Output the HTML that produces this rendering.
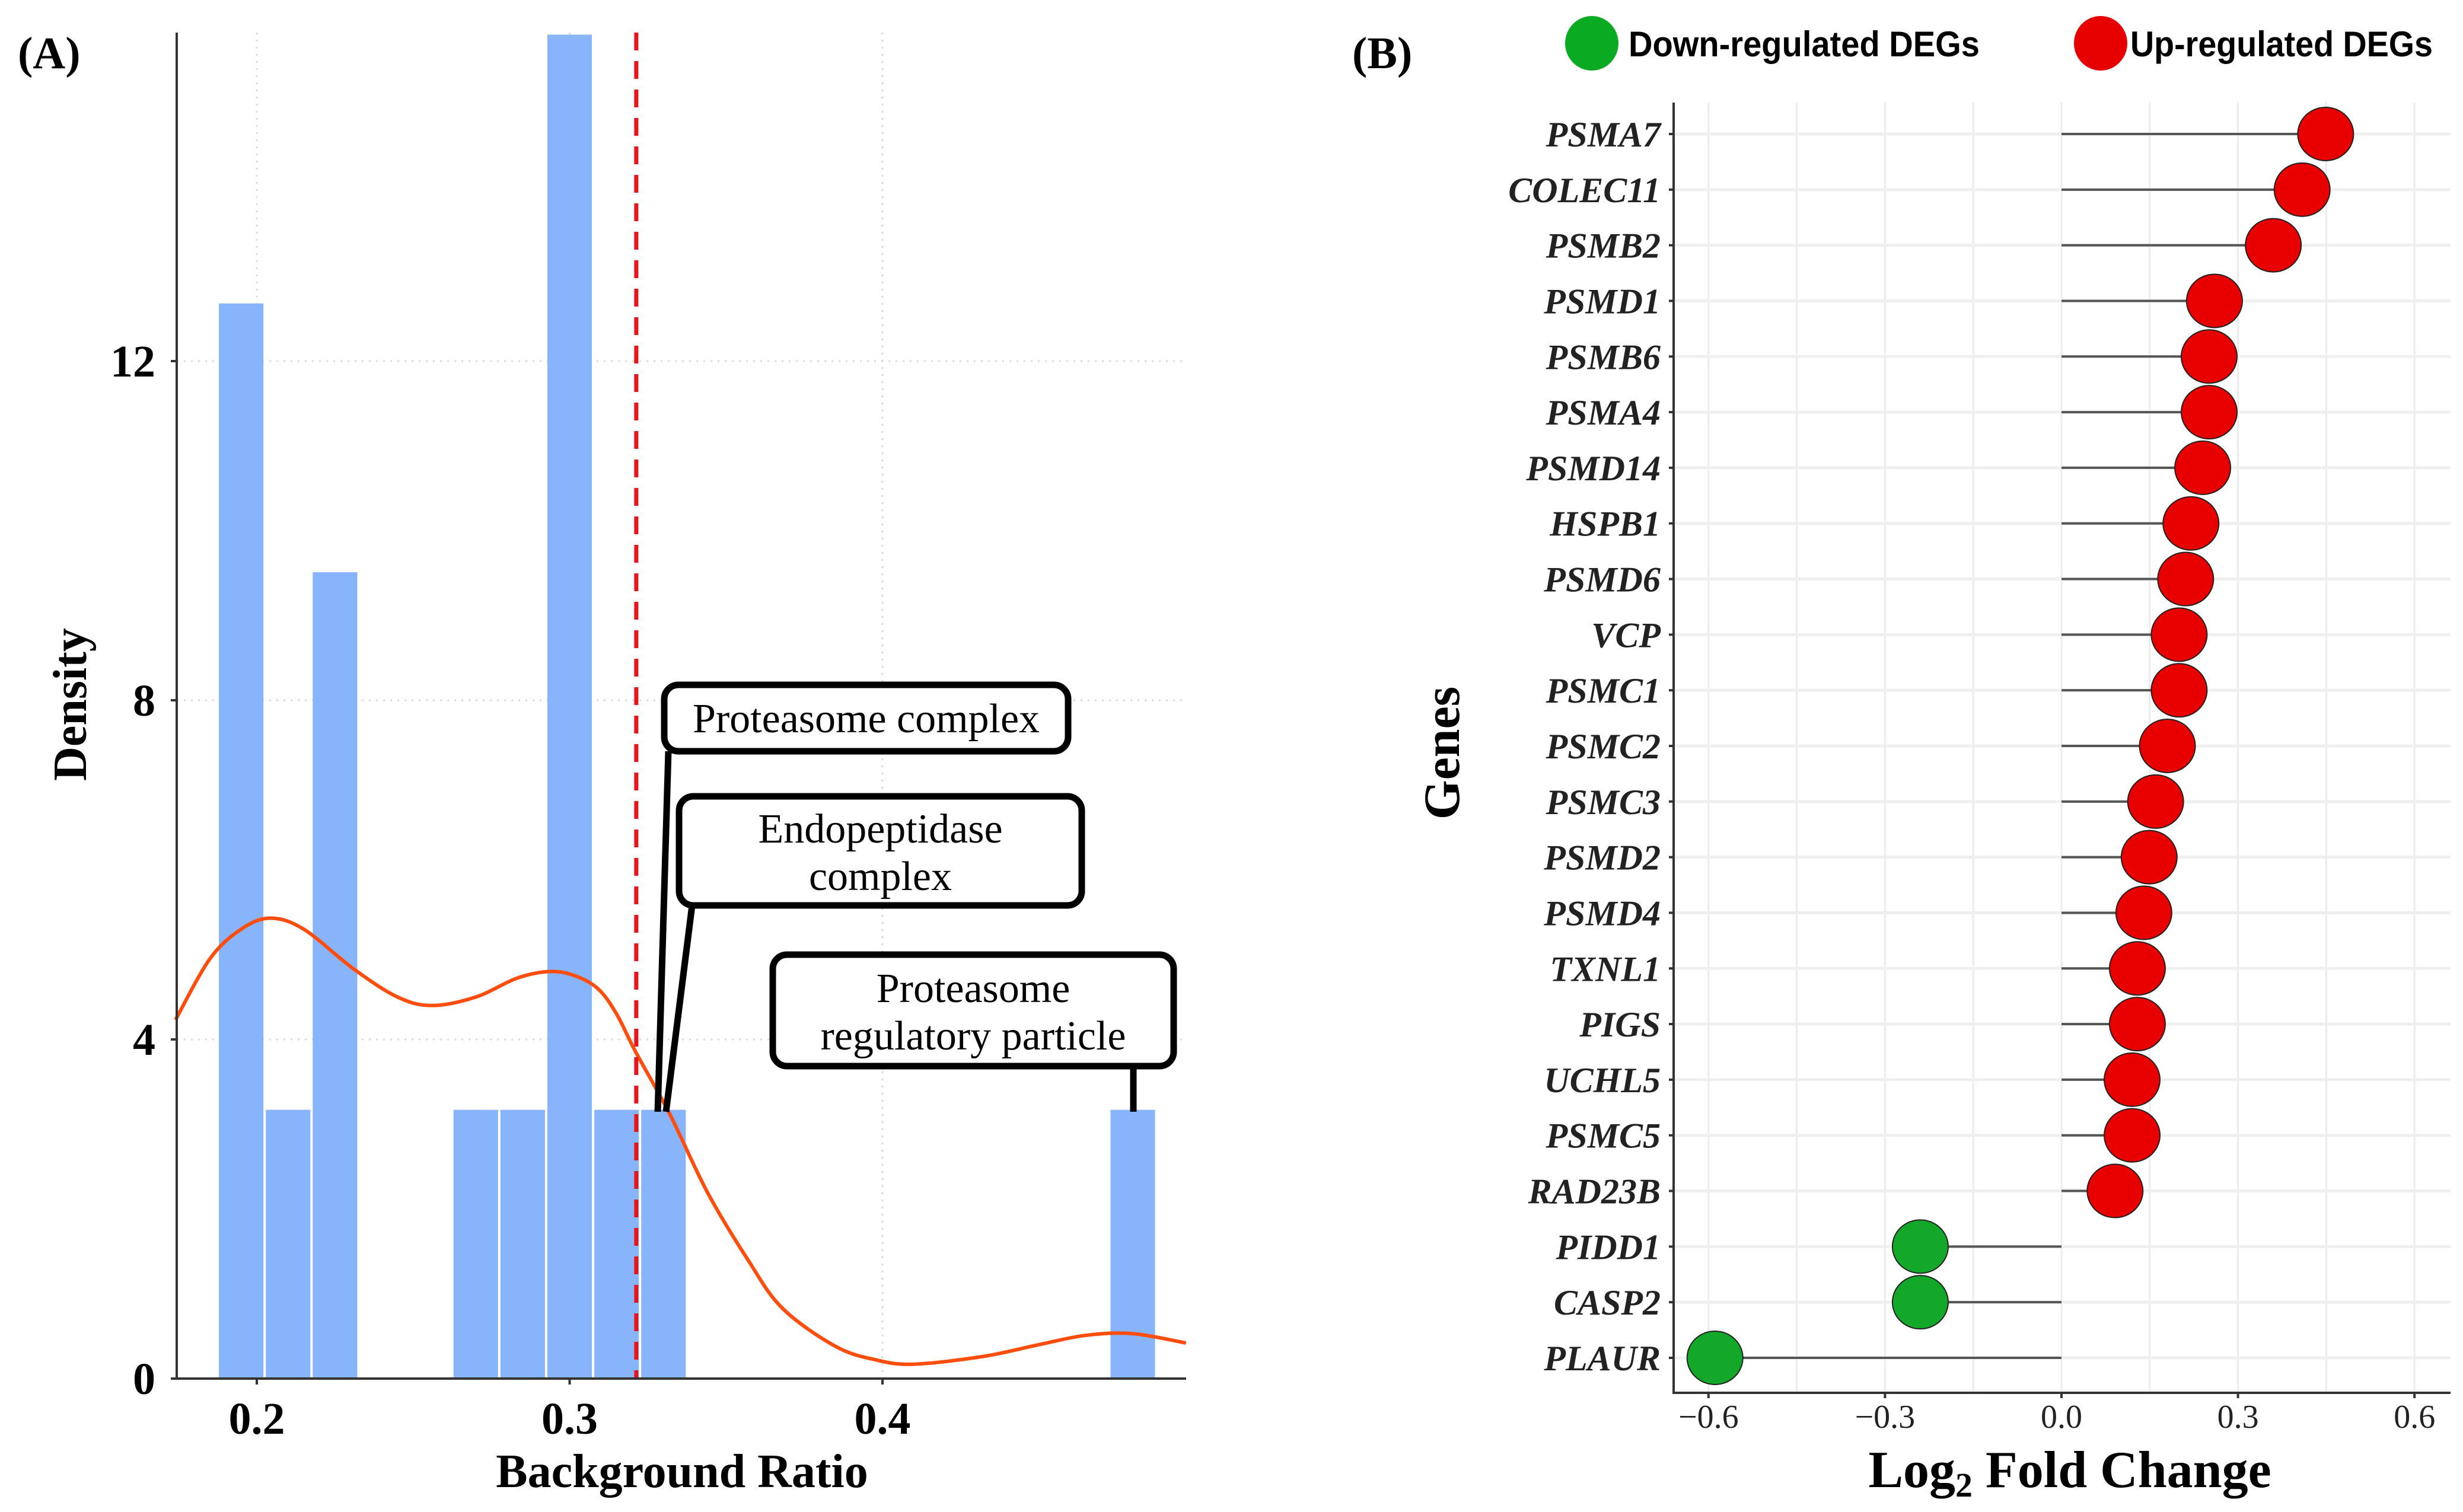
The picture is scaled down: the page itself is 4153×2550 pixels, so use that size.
<!DOCTYPE html>
<html><head><meta charset="utf-8"><style>
html,body{margin:0;padding:0;background:#fff;}
svg{display:block;}
.serif{font-family:"Liberation Serif",serif;}
</style></head><body>
<svg id="svg" width="4153" height="2550" viewBox="0 0 4153 2550" xmlns="http://www.w3.org/2000/svg">
<g id="pa"></g>
<g id="pb"></g>
</svg>
<script>
// ---------- Panel A data ----------
const binStarts = [0.1875,0.2025,0.2175,0.2625,0.2775,0.2925,0.3075,0.3225,0.4725];
const binHeights = [12.68,3.17,9.51,3.17,3.17,15.85,3.17,3.17,3.17];
const binWidth = 0.015;
const kdeX = [0.174,0.185,0.195,0.2043,0.215,0.231,0.245,0.256,0.27,0.283,0.293,0.301,0.309,0.315,0.321,0.332,0.344,0.357,0.368,0.385,0.398,0.41,0.432,0.45,0.465,0.48,0.497];
const kdeY = [4.23,4.95,5.3,5.43,5.3,4.83,4.5,4.4,4.5,4.72,4.8,4.76,4.6,4.3,3.86,3.12,2.2,1.4,0.83,0.38,0.22,0.17,0.26,0.4,0.51,0.53,0.42];
const thresholdX = 0.3213;
const aXTicks = [0.2,0.3,0.4];
const aXTickLabels = ["0.2","0.3","0.4"];
const aYTicks = [0,4,8,12];
const aYTickLabels = ["0","4","8","12"];

// ---------- Panel B data ----------
const genes = ["PSMA7","COLEC11","PSMB2","PSMD1","PSMB6","PSMA4","PSMD14","HSPB1","PSMD6","VCP","PSMC1","PSMC2","PSMC3","PSMD2","PSMD4","TXNL1","PIGS","UCHL5","PSMC5","RAD23B","PIDD1","CASP2","PLAUR"];
const logFC = [0.449,0.409,0.36,0.26,0.251,0.251,0.24,0.22,0.211,0.2,0.2,0.18,0.16,0.149,0.14,0.129,0.129,0.12,0.12,0.091,-0.24,-0.24,-0.589];
const bXTicks = [-0.6,-0.3,0.0,0.3,0.6];
const bXTickLabels = ["\u22120.6","\u22120.3","0.0","0.3","0.6"];

const NS="http://www.w3.org/2000/svg";
function mk(parent,tag,attrs,text){const e=document.createElementNS(NS,tag);for(const k in attrs)e.setAttribute(k,attrs[k]);if(text!==undefined)e.textContent=text;parent.appendChild(e);return e;}

// ===== Panel A =====
(function(){
const g=document.getElementById('pa');
const L=298,R=2000,T=55,B=2325;
const xA=v=>433+(v-0.2)*5275;
const yA=v=>B-v*143;
aXTicks.forEach(v=>{const l=mk(g,'line',{x1:xA(v),x2:xA(v),y1:T,y2:B,stroke:'#d9d9d9','stroke-width':3,'stroke-dasharray':'3 9'});
});
aYTicks.slice(1).forEach(v=>{const l=mk(g,'line',{x1:L,x2:R,y1:yA(v),y2:yA(v),stroke:'#d9d9d9','stroke-width':3,'stroke-dasharray':'3 9'});
});
binStarts.forEach((s,i)=>{const x0=xA(s),x1=xA(s+binWidth);const y=Math.max(yA(binHeights[i]),T);
const r=mk(g,'rect',{x:x0+2,y:y,width:x1-x0-4,height:B-y,fill:'#87b4fa'});
});
const pts=kdeX.map((v,i)=>[xA(v),yA(kdeY[i])]);
let d='M'+pts[0][0]+','+pts[0][1];
for(let i=0;i<pts.length-1;i++){const p0=pts[i-1]||pts[i],p1=pts[i],p2=pts[i+1],p3=pts[i+2]||p2;
d+=' C'+(p1[0]+(p2[0]-p0[0])/6)+','+(p1[1]+(p2[1]-p0[1])/6)+' '+(p2[0]-(p3[0]-p1[0])/6)+','+(p2[1]-(p3[1]-p1[1])/6)+' '+p2[0]+','+p2[1];}
const kp=mk(g,'path',{d:d,fill:'none',stroke:'#ff4d0d','stroke-width':6});

const th=mk(g,'line',{x1:xA(thresholdX),x2:xA(thresholdX),y1:T,y2:B,stroke:'#e8141c','stroke-width':7,'stroke-dasharray':'30 18'});

const ax=mk(g,'path',{d:`M${L},${T} L${L},${B} L${R},${B}`,fill:'none',stroke:'#333','stroke-width':4});

aXTicks.forEach((v,i)=>{mk(g,'line',{x1:xA(v),x2:xA(v),y1:B,y2:B+10,stroke:'#333','stroke-width':4});
const t=mk(g,'text',{x:xA(v),y:2418,'text-anchor':'middle','font-size':76,'font-weight':'bold',class:'serif'},aXTickLabels[i]);
});
aYTicks.forEach((v,i)=>{mk(g,'line',{x1:L-10,x2:L,y1:yA(v),y2:yA(v),stroke:'#333','stroke-width':4});
const t=mk(g,'text',{x:262,y:yA(v)+26,'text-anchor':'end','font-size':76,'font-weight':'bold',class:'serif'},aYTickLabels[i]);
});
let t=mk(g,'text',{x:1150,y:2508,'text-anchor':'middle','font-size':80,'font-weight':'bold',class:'serif'},'Background Ratio');

t=mk(g,'text',{x:0,y:0,'text-anchor':'middle','font-size':80,'font-weight':'bold',class:'serif',transform:'translate(145,1188) rotate(-90)'},'Density');

t=mk(g,'text',{x:30,y:115,'font-size':76,'font-weight':'bold',class:'serif'},'(A)');

const anns=[
 {name:'annotation-proteasome-complex',x:1120,y:1155,w:681,h:112,lines:['Proteasome complex'],lx1:1127,ly1:1267,lx2:1109,ly2:1875},
 {name:'annotation-endopeptidase-complex',x:1145,y:1343,w:679,h:184,lines:['Endopeptidase','complex'],lx1:1167,ly1:1527,lx2:1123,ly2:1875},
 {name:'annotation-proteasome-regulatory-particle',x:1303,y:1610,w:676,h:188,lines:['Proteasome','regulatory particle'],lx1:1911,ly1:1798,lx2:1911,ly2:1875}];
anns.forEach(a=>{
 const gg=mk(g,'g',{});
 mk(gg,'line',{x1:a.lx1,y1:a.ly1,x2:a.lx2,y2:a.ly2,stroke:'#000','stroke-width':11});
 mk(gg,'rect',{x:a.x,y:a.y,width:a.w,height:a.h,rx:24,fill:'#fff',stroke:'#000','stroke-width':11});
 const cx=a.x+a.w/2;
 if(a.lines.length===1){mk(gg,'text',{x:cx,y:a.y+a.h/2+24,'text-anchor':'middle','font-size':70,class:'serif'},a.lines[0]);}
 else{mk(gg,'text',{x:cx,y:a.y+a.h/2-14,'text-anchor':'middle','font-size':70,class:'serif'},a.lines[0]);
      mk(gg,'text',{x:cx,y:a.y+a.h/2+66,'text-anchor':'middle','font-size':70,class:'serif'},a.lines[1]);}
});
})();

// ===== Panel B =====
(function(){
const g=document.getElementById('pb');
const L=2822,R=4132,T=173,B=2349;
const xs=v=>3476+v*992;
const yB=i=>226+i*(2290-226)/22;
for(let k=-4;k<=4;k++){const v=k*0.15;const l=mk(g,'line',{x1:xs(v),x2:xs(v),y1:T,y2:B,stroke:'#ececec','stroke-width':3});
}
genes.forEach((n,i)=>{const l=mk(g,'line',{x1:L,x2:R,y1:yB(i),y2:yB(i),stroke:'#efefef','stroke-width':5});
});
genes.forEach((n,i)=>{
 const s=mk(g,'line',{x1:xs(0),x2:xs(logFC[i]),y1:yB(i),y2:yB(i),stroke:'#555','stroke-width':4});
 });
genes.forEach((n,i)=>{
 const c=mk(g,'ellipse',{cx:xs(logFC[i]),cy:yB(i),rx:47,ry:45,fill:logFC[i]>=0?'#e80000':'#13a82a',stroke:'#222','stroke-width':2});
 
 const t=mk(g,'text',{x:2800,y:yB(i)+21,'text-anchor':'end','font-size':60,'font-style':'italic','font-weight':'bold',class:'serif',fill:'#222'},n);
 
 mk(g,'line',{x1:L-8,x2:L,y1:yB(i),y2:yB(i),stroke:'#333','stroke-width':4});
});
const ax=mk(g,'path',{d:`M${L},${T} L${L},${B} L${R},${B}`,fill:'none',stroke:'#333','stroke-width':4});

bXTicks.forEach((v,i)=>{mk(g,'line',{x1:xs(v),x2:xs(v),y1:B,y2:B+9,stroke:'#333','stroke-width':4});
const t=mk(g,'text',{x:xs(v),y:2408,'text-anchor':'middle','font-size':56,class:'serif',fill:'#222'},bXTickLabels[i]);
});
let t=mk(g,'text',{x:3490,y:2508,'text-anchor':'middle','font-size':88,'font-weight':'bold',class:'serif'});

t.innerHTML='Log<tspan font-size="58" dy="16">2</tspan><tspan dy="-16"> Fold Change</tspan>';
t=mk(g,'text',{x:0,y:0,'text-anchor':'middle','font-size':86,'font-weight':'bold',class:'serif',transform:'translate(2460,1270) rotate(-90)'},'Genes');

t=mk(g,'text',{x:2280,y:115,'font-size':76,'font-weight':'bold',class:'serif'},'(B)');

const lg=mk(g,'g',{});
let e=mk(lg,'ellipse',{cx:2684,cy:73,rx:45,ry:46,fill:'#0aaa22'});

t=mk(lg,'text',{x:2746,y:95,'font-size':60,'font-weight':'bold','font-family':'"Liberation Sans",sans-serif',textLength:592,lengthAdjust:'spacingAndGlyphs'},'Down-regulated DEGs');

e=mk(lg,'ellipse',{cx:3542,cy:73,rx:45,ry:46,fill:'#e60000'});

t=mk(lg,'text',{x:3592,y:95,'font-size':60,'font-weight':'bold','font-family':'"Liberation Sans",sans-serif',textLength:510,lengthAdjust:'spacingAndGlyphs'},'Up-regulated DEGs');

})();
</script>
</body></html>
